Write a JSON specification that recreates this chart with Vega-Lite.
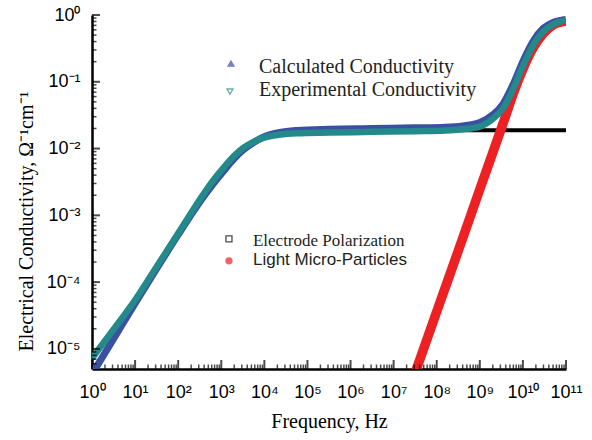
{
  "$schema": "https://vega.github.io/schema/vega-lite/v6.json",
  "width": 474,
  "height": 354,
  "autosize": {"type": "none"},
  "padding": {"left": 92, "top": 15, "right": 26, "bottom": 71},
  "background": "white",
  "config": {
    "view": {"stroke": null},
    "axis": {"grid": false, "domainColor": "black", "labelColor": "black", "titleColor": "black"}
  },
  "datasets": {
    "curves": [
      {"series": "Electrode Polarization", "f": 1, "s": 4.365e-6},
      {"series": "Electrode Polarization", "f": 10, "s": 4.677e-5},
      {"series": "Electrode Polarization", "f": 100, "s": 5.012e-4},
      {"series": "Electrode Polarization", "f": 316.2, "s": 1.585e-3},
      {"series": "Electrode Polarization", "f": 1000, "s": 4.169e-3},
      {"series": "Electrode Polarization", "f": 3162, "s": 9.333e-3},
      {"series": "Electrode Polarization", "f": 10000, "s": 1.445e-2},
      {"series": "Electrode Polarization", "f": 31623, "s": 1.738e-2},
      {"series": "Electrode Polarization", "f": 100000, "s": 1.841e-2},
      {"series": "Electrode Polarization", "f": 1e6, "s": 1.884e-2},
      {"series": "Electrode Polarization", "f": 1e7, "s": 1.884e-2},
      {"series": "Electrode Polarization", "f": 1e8, "s": 1.884e-2},
      {"series": "Electrode Polarization", "f": 1e9, "s": 1.884e-2},
      {"series": "Electrode Polarization", "f": 1e10, "s": 1.884e-2},
      {"series": "Electrode Polarization", "f": 1e11, "s": 1.884e-2},
      {"series": "Light Micro-Particles", "f": 2.512e7, "s": 2.884e-6},
      {"series": "Light Micro-Particles", "f": 1e8, "s": 3.631e-5},
      {"series": "Light Micro-Particles", "f": 3.162e8, "s": 2.951e-4},
      {"series": "Light Micro-Particles", "f": 1e9, "s": 2.455e-3},
      {"series": "Light Micro-Particles", "f": 2.951e9, "s": 1.778e-2},
      {"series": "Light Micro-Particles", "f": 3.981e9, "s": 3.090e-2},
      {"series": "Light Micro-Particles", "f": 6.026e9, "s": 6.761e-2},
      {"series": "Light Micro-Particles", "f": 1e10, "s": 0.1549},
      {"series": "Light Micro-Particles", "f": 1.738e10, "s": 0.3236},
      {"series": "Light Micro-Particles", "f": 2.951e10, "s": 0.5248},
      {"series": "Light Micro-Particles", "f": 5.012e10, "s": 0.7079},
      {"series": "Light Micro-Particles", "f": 1e11, "s": 0.8128},
      {"series": "Calculated Conductivity", "f": 1, "s": 4.169e-6},
      {"series": "Calculated Conductivity", "f": 3.162, "s": 1.413e-5},
      {"series": "Calculated Conductivity", "f": 10, "s": 4.786e-5},
      {"series": "Calculated Conductivity", "f": 31.62, "s": 1.585e-4},
      {"series": "Calculated Conductivity", "f": 100, "s": 5.129e-4},
      {"series": "Calculated Conductivity", "f": 380.2, "s": 1.862e-3},
      {"series": "Calculated Conductivity", "f": 631, "s": 2.884e-3},
      {"series": "Calculated Conductivity", "f": 1122, "s": 4.571e-3},
      {"series": "Calculated Conductivity", "f": 1995, "s": 7.079e-3},
      {"series": "Calculated Conductivity", "f": 3236, "s": 9.550e-3},
      {"series": "Calculated Conductivity", "f": 5623, "s": 1.230e-2},
      {"series": "Calculated Conductivity", "f": 9333, "s": 1.479e-2},
      {"series": "Calculated Conductivity", "f": 22909, "s": 1.738e-2},
      {"series": "Calculated Conductivity", "f": 56234, "s": 1.862e-2},
      {"series": "Calculated Conductivity", "f": 316228, "s": 1.950e-2},
      {"series": "Calculated Conductivity", "f": 3162278, "s": 1.995e-2},
      {"series": "Calculated Conductivity", "f": 31622777, "s": 2.042e-2},
      {"series": "Calculated Conductivity", "f": 158489319, "s": 2.089e-2},
      {"series": "Calculated Conductivity", "f": 398107171, "s": 2.188e-2},
      {"series": "Calculated Conductivity", "f": 1e9, "s": 2.455e-2},
      {"series": "Calculated Conductivity", "f": 2.042e9, "s": 3.236e-2},
      {"series": "Calculated Conductivity", "f": 3.467e9, "s": 4.677e-2},
      {"series": "Calculated Conductivity", "f": 6.026e9, "s": 9.333e-2},
      {"series": "Calculated Conductivity", "f": 1.023e10, "s": 0.2089},
      {"series": "Calculated Conductivity", "f": 1.738e10, "s": 0.4074},
      {"series": "Calculated Conductivity", "f": 2.951e10, "s": 0.6310},
      {"series": "Calculated Conductivity", "f": 5.012e10, "s": 0.7762},
      {"series": "Calculated Conductivity", "f": 9.772e10, "s": 0.8511},
      {"series": "Experimental Conductivity", "f": 1, "s": 7.244e-6},
      {"series": "Experimental Conductivity", "f": 3.162, "s": 1.950e-5},
      {"series": "Experimental Conductivity", "f": 10, "s": 5.370e-5},
      {"series": "Experimental Conductivity", "f": 31.62, "s": 1.698e-4},
      {"series": "Experimental Conductivity", "f": 100, "s": 5.370e-4},
      {"series": "Experimental Conductivity", "f": 380.2, "s": 2.042e-3},
      {"series": "Experimental Conductivity", "f": 631, "s": 3.236e-3},
      {"series": "Experimental Conductivity", "f": 1122, "s": 5.129e-3},
      {"series": "Experimental Conductivity", "f": 1995, "s": 7.762e-3},
      {"series": "Experimental Conductivity", "f": 3236, "s": 1.023e-2},
      {"series": "Experimental Conductivity", "f": 5623, "s": 1.259e-2},
      {"series": "Experimental Conductivity", "f": 9333, "s": 1.445e-2},
      {"series": "Experimental Conductivity", "f": 22909, "s": 1.622e-2},
      {"series": "Experimental Conductivity", "f": 56234, "s": 1.698e-2},
      {"series": "Experimental Conductivity", "f": 316228, "s": 1.738e-2},
      {"series": "Experimental Conductivity", "f": 3162278, "s": 1.778e-2},
      {"series": "Experimental Conductivity", "f": 31622777, "s": 1.820e-2},
      {"series": "Experimental Conductivity", "f": 158489319, "s": 1.862e-2},
      {"series": "Experimental Conductivity", "f": 398107171, "s": 1.950e-2},
      {"series": "Experimental Conductivity", "f": 1e9, "s": 2.138e-2},
      {"series": "Experimental Conductivity", "f": 2.042e9, "s": 2.818e-2},
      {"series": "Experimental Conductivity", "f": 3.467e9, "s": 3.981e-2},
      {"series": "Experimental Conductivity", "f": 6.026e9, "s": 7.943e-2},
      {"series": "Experimental Conductivity", "f": 1.023e10, "s": 0.1778},
      {"series": "Experimental Conductivity", "f": 1.738e10, "s": 0.3548},
      {"series": "Experimental Conductivity", "f": 2.951e10, "s": 0.5623},
      {"series": "Experimental Conductivity", "f": 5.012e10, "s": 0.7244},
      {"series": "Experimental Conductivity", "f": 9.772e10, "s": 0.8318}
    ],
    "legend": [
      {"label": "Calculated Conductivity", "group": "top", "sf": 1679, "ss": 0.1875, "tf": 7499, "ts": 0.169},
      {"label": "Experimental Conductivity", "group": "top", "sf": 1592, "ss": 0.0713, "tf": 7499, "ts": 0.0764},
      {"label": "Electrode Polarization", "group": "serif", "sf": 1510, "ss": 4.457e-4, "tf": 5433, "ts": 4.159e-4},
      {"label": "Light Micro-Particles", "group": "sans", "sf": 1510, "ss": 2.084e-4, "tf": 5433, "ts": 2.158e-4}
    ],
    "xmajor": [{"v": 1}, {"v": 10}, {"v": 100}, {"v": 1000}, {"v": 10000}, {"v": 100000}, {"v": 1e6}, {"v": 1e7}, {"v": 1e8}, {"v": 1e9}, {"v": 1e10}, {"v": 1e11}],
    "xminor": [{"v":2},{"v":3},{"v":4},{"v":5},{"v":6},{"v":7},{"v":8},{"v":9},
      {"v":20},{"v":30},{"v":40},{"v":50},{"v":60},{"v":70},{"v":80},{"v":90},
      {"v":200},{"v":300},{"v":400},{"v":500},{"v":600},{"v":700},{"v":800},{"v":900},
      {"v":2e3},{"v":3e3},{"v":4e3},{"v":5e3},{"v":6e3},{"v":7e3},{"v":8e3},{"v":9e3},
      {"v":2e4},{"v":3e4},{"v":4e4},{"v":5e4},{"v":6e4},{"v":7e4},{"v":8e4},{"v":9e4},
      {"v":2e5},{"v":3e5},{"v":4e5},{"v":5e5},{"v":6e5},{"v":7e5},{"v":8e5},{"v":9e5},
      {"v":2e6},{"v":3e6},{"v":4e6},{"v":5e6},{"v":6e6},{"v":7e6},{"v":8e6},{"v":9e6},
      {"v":2e7},{"v":3e7},{"v":4e7},{"v":5e7},{"v":6e7},{"v":7e7},{"v":8e7},{"v":9e7},
      {"v":2e8},{"v":3e8},{"v":4e8},{"v":5e8},{"v":6e8},{"v":7e8},{"v":8e8},{"v":9e8},
      {"v":2e9},{"v":3e9},{"v":4e9},{"v":5e9},{"v":6e9},{"v":7e9},{"v":8e9},{"v":9e9},
      {"v":2e10},{"v":3e10},{"v":4e10},{"v":5e10},{"v":6e10},{"v":7e10},{"v":8e10},{"v":9e10}],
    "ymajor": [{"v": 1e-5}, {"v": 1e-4}, {"v": 1e-3}, {"v": 1e-2}, {"v": 0.1}, {"v": 1}],
    "yminor": [{"v":6e-6},{"v":7e-6},{"v":8e-6},{"v":9e-6},
      {"v":2e-5},{"v":3e-5},{"v":4e-5},{"v":5e-5},{"v":6e-5},{"v":7e-5},{"v":8e-5},{"v":9e-5},
      {"v":2e-4},{"v":3e-4},{"v":4e-4},{"v":5e-4},{"v":6e-4},{"v":7e-4},{"v":8e-4},{"v":9e-4},
      {"v":2e-3},{"v":3e-3},{"v":4e-3},{"v":5e-3},{"v":6e-3},{"v":7e-3},{"v":8e-3},{"v":9e-3},
      {"v":2e-2},{"v":3e-2},{"v":4e-2},{"v":5e-2},{"v":6e-2},{"v":7e-2},{"v":8e-2},{"v":9e-2},
      {"v":0.2},{"v":0.3},{"v":0.4},{"v":0.5},{"v":0.6},{"v":0.7},{"v":0.8},{"v":0.9}]
  },
  "layer": [
    {
      "data": {"name": "curves"},
      "transform": [{"filter": "datum.series === 'Electrode Polarization'"}],
      "mark": {"type": "line", "color": "black", "strokeWidth": 4, "interpolate": "monotone", "clip": true},
      "encoding": {
        "x": {"field": "f", "type": "quantitative", "scale": {"type": "log", "domain": [1, 1e11], "nice": false},
          "axis": {"orient": "bottom", "values": [1, 10, 100, 1000, 10000, 100000, 1e6, 1e7, 1e8, 1e9, 1e10, 1e11],
            "labelExpr": "'10' + ['⁰','¹','²','³','⁴','⁵','⁶','⁷','⁸','⁹','¹⁰','¹¹'][round(log(datum.value)/LN10)]",
            "ticks": false, "tickSize": 0, "domainWidth": 2.5, "domainColor": "black", "labelFont": "Liberation Sans", "labelFontSize": 18,
            "labelPadding": 14.5, "labelOverlap": false, "labelFlush": false,
            "title": "Frequency, Hz", "titleFont": "Liberation Serif", "titleFontSize": 20, "titleFontWeight": "normal",
            "titleY": 58, "titleBaseline": "alphabetic"}},
        "y": {"field": "s", "type": "quantitative", "scale": {"type": "log", "domain": [5e-6, 1], "nice": false},
          "axis": {"orient": "left", "values": [1e-5, 1e-4, 1e-3, 1e-2, 1e-1, 1],
            "labelExpr": "'10' + ['⁰','⁻¹','⁻²','⁻³','⁻⁴','⁻⁵'][round(-log(datum.value)/LN10)]",
            "ticks": false, "tickSize": 0, "domainWidth": 2.5, "domainColor": "black", "labelFont": "Liberation Sans", "labelFontSize": 18,
            "labelPadding": 12, "labelOverlap": false, "labelFlush": false,
            "title": "Electrical Conductivity, Ω⁻¹cm⁻¹", "titleFont": "Liberation Serif", "titleFontSize": 20, "titleFontWeight": "normal",
            "titleAngle": -90, "titleX": -66, "titleY": 206, "titleAlign": "center", "titleBaseline": "middle"}}
      }
    },
    {
      "data": {"name": "curves"},
      "transform": [{"filter": "datum.series === 'Light Micro-Particles'"}],
      "mark": {"type": "line", "color": "#ed2024", "strokeWidth": 9.5, "interpolate": "monotone", "clip": true},
      "encoding": {
        "x": {"field": "f", "type": "quantitative", "axis": null},
        "y": {"field": "s", "type": "quantitative", "axis": null}
      }
    },
    {
      "data": {"name": "curves"},
      "transform": [{"filter": "datum.series === 'Calculated Conductivity'"}],
      "mark": {"type": "line", "color": "#3a51a2", "strokeWidth": 7, "interpolate": "monotone", "clip": true},
      "encoding": {
        "x": {"field": "f", "type": "quantitative", "axis": null},
        "y": {"field": "s", "type": "quantitative", "axis": null}
      }
    },
    {
      "data": {"name": "curves"},
      "transform": [{"filter": "datum.series === 'Experimental Conductivity'"}],
      "mark": {"type": "line", "color": "#23898b", "strokeWidth": 6.5, "interpolate": "monotone", "clip": true},
      "encoding": {
        "x": {"field": "f", "type": "quantitative", "axis": null},
        "y": {"field": "s", "type": "quantitative", "axis": null}
      }
    },
    {
      "data": {"name": "xmajor"},
      "mark": {"type": "tick", "orient": "vertical", "color": "black", "size": 9, "thickness": 2, "yOffset": -4.5},
      "encoding": {
        "x": {"field": "v", "type": "quantitative", "axis": null},
        "y": {"datum": 5e-6, "type": "quantitative", "axis": null}
      }
    },
    {
      "data": {"name": "xminor"},
      "mark": {"type": "tick", "orient": "vertical", "color": "black", "size": 4.5, "thickness": 1.5, "yOffset": -2.25},
      "encoding": {
        "x": {"field": "v", "type": "quantitative", "axis": null},
        "y": {"datum": 5e-6, "type": "quantitative", "axis": null}
      }
    },
    {
      "data": {"name": "ymajor"},
      "mark": {"type": "tick", "orient": "horizontal", "color": "black", "size": 8, "thickness": 2, "xOffset": 4},
      "encoding": {
        "y": {"field": "v", "type": "quantitative", "axis": null},
        "x": {"datum": 1, "type": "quantitative", "axis": null}
      }
    },
    {
      "data": {"name": "yminor"},
      "mark": {"type": "tick", "orient": "horizontal", "color": "black", "size": 4.5, "thickness": 1.5, "xOffset": 2.25},
      "encoding": {
        "y": {"field": "v", "type": "quantitative", "axis": null},
        "x": {"datum": 1, "type": "quantitative", "axis": null}
      }
    },
    {
      "data": {"name": "legend"},
      "mark": {"type": "point", "filled": true, "strokeWidth": 1.3},
      "encoding": {
        "x": {"field": "sf", "type": "quantitative", "axis": null},
        "y": {"field": "ss", "type": "quantitative", "axis": null},
        "shape": {"field": "label", "type": "nominal", "legend": null,
          "scale": {"domain": ["Calculated Conductivity", "Experimental Conductivity", "Electrode Polarization", "Light Micro-Particles"], "range": ["triangle-up", "triangle-down", "square", "circle"]}},
        "fill": {"field": "label", "type": "nominal", "legend": null,
          "scale": {"domain": ["Calculated Conductivity", "Experimental Conductivity", "Electrode Polarization", "Light Micro-Particles"], "range": ["#3a51a2", "white", "white", "#ed2024"]}},
        "stroke": {"field": "label", "type": "nominal", "legend": null,
          "scale": {"domain": ["Calculated Conductivity", "Experimental Conductivity", "Electrode Polarization", "Light Micro-Particles"], "range": ["#3a51a2", "#23898b", "black", "#ed2024"]}},
        "size": {"field": "label", "type": "nominal", "legend": null,
          "scale": {"domain": ["Calculated Conductivity", "Experimental Conductivity", "Electrode Polarization", "Light Micro-Particles"], "range": [36, 36, 25, 81]}}
      }
    },
    {
      "data": {"name": "legend"},
      "transform": [{"filter": "datum.group === 'top'"}],
      "mark": {"type": "text", "align": "left", "baseline": "middle", "font": "Liberation Serif", "fontSize": 20, "color": "#231f20"},
      "encoding": {
        "x": {"field": "tf", "type": "quantitative", "axis": null},
        "y": {"field": "ts", "type": "quantitative", "axis": null},
        "text": {"field": "label"}
      }
    },
    {
      "data": {"name": "legend"},
      "transform": [{"filter": "datum.group === 'serif'"}],
      "mark": {"type": "text", "align": "left", "baseline": "middle", "font": "Liberation Serif", "fontSize": 17, "color": "#231f20"},
      "encoding": {
        "x": {"field": "tf", "type": "quantitative", "axis": null},
        "y": {"field": "ts", "type": "quantitative", "axis": null},
        "text": {"field": "label"}
      }
    },
    {
      "data": {"name": "legend"},
      "transform": [{"filter": "datum.group === 'sans'"}],
      "mark": {"type": "text", "align": "left", "baseline": "middle", "font": "Liberation Sans", "fontSize": 17, "color": "#231f20"},
      "encoding": {
        "x": {"field": "tf", "type": "quantitative", "axis": null},
        "y": {"field": "ts", "type": "quantitative", "axis": null},
        "text": {"field": "label"}
      }
    }
  ],
  "resolve": {"axis": {"x": "independent", "y": "independent"}}
}
